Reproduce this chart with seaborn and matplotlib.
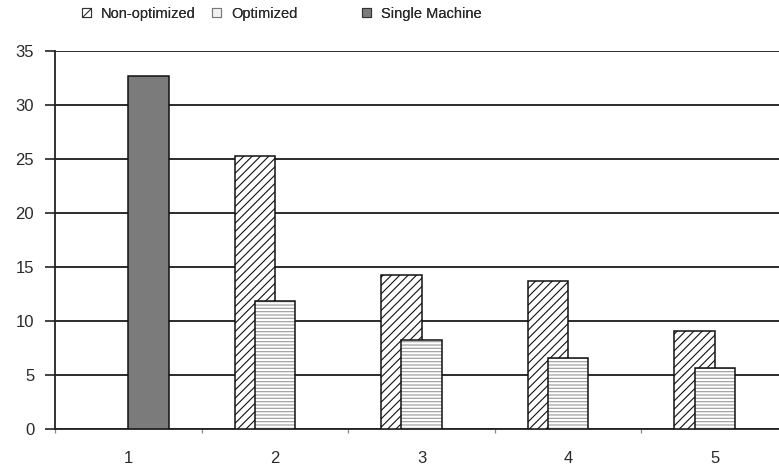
import numpy as np
import pandas as pd
import matplotlib
matplotlib.use("Agg")
import matplotlib.pyplot as plt
import seaborn as sns
from matplotlib.patches import Patch

# ---- data ----
categories = [1, 2, 3, 4, 5]
nonopt_cats = [2, 3, 4, 5]
nonopt_vals = [25.2, 14.2, 13.7, 9.1]
opt_cats = [2, 3, 4, 5]
opt_vals = [11.8, 8.2, 6.6, 5.6]
single_cats = [1]
single_vals = [32.6]
tick_labels = ["1", "2", "3", "4", "5"]
y_ticks = [0, 5, 10, 15, 20, 25, 30, 35]

sns.set_theme(style="white")
plt.rcParams['font.family'] = ['Liberation Sans', 'DejaVu Sans']
plt.rcParams['hatch.linewidth'] = 0.8

TEXT = "#2a2a2a"
W = 0.275      # bar width (category units)
OFF = 0.137    # overlap offset

fig = plt.figure(figsize=(7.79, 4.74), dpi=100)
ax = fig.add_axes([55 / 779, 45 / 474, 733 / 779, 378.5 / 474])

# gridlines behind bars
ax.set_axisbelow(True)
ax.yaxis.grid(True, color="#1a1a1a", linewidth=1.3)
ax.xaxis.grid(False)

df_non = pd.DataFrame({"x": np.array(nonopt_cats) - OFF, "y": nonopt_vals})
df_opt = pd.DataFrame({"x": np.array(opt_cats) + 0.0, "y": opt_vals})
df_sgl = pd.DataFrame({"x": np.array(single_cats) + OFF, "y": single_vals})

# Non-optimized: diagonal hatch
sns.barplot(data=df_non, x="x", y="y", native_scale=True, width=W,
            color="white", edgecolor="#111111", linewidth=1.1,
            hatch="////", ax=ax, zorder=3)
# Optimized: light horizontal hatch + black outline
sns.barplot(data=df_opt, x="x", y="y", native_scale=True, width=W,
            color="white", edgecolor="#9a9a9a", linewidth=0,
            hatch="-----", ax=ax, zorder=4)
sns.barplot(data=df_opt, x="x", y="y", native_scale=True, width=W,
            fill=False, edgecolor="#111111", linewidth=1.1, ax=ax, zorder=5)
# Single machine: solid gray
sns.barplot(data=df_sgl, x="x", y="y", native_scale=True, width=W,
            color="#7b7b7b", saturation=1, edgecolor="#111111", linewidth=1.1,
            ax=ax, zorder=3)

ax.set_xlim(0.5, 5.5)
ax.set_ylim(0, 35)
ax.set_yticks(y_ticks)
ax.set_yticklabels([str(v) for v in y_ticks])
ax.set_xticks(categories)
ax.set_xticklabels(tick_labels)
ax.set_xticks([0.5, 1.5, 2.5, 3.5, 4.5], minor=True)
ax.set_xlabel("")
ax.set_ylabel("")

for s in ["top", "right"]:
    ax.spines[s].set_visible(False)
for s in ["left", "bottom"]:
    ax.spines[s].set_color("#222222")
    ax.spines[s].set_linewidth(1.3)

ax.tick_params(axis="y", which="major", direction="out", length=7, width=1.2,
               color="#222222", pad=8, labelsize=12, labelcolor=TEXT, left=True)
ax.tick_params(axis="x", which="major", length=0, pad=16, labelsize=12,
               labelcolor=TEXT)
ax.tick_params(axis="x", which="minor", direction="out", length=3, width=0.9,
               color="#888888", bottom=True)

# legends (three separate entries along the top)
h_non = Patch(facecolor="white", edgecolor="#333333", hatch="////", linewidth=0.8)
h_opt = Patch(facecolor="#f0f0f0", edgecolor="#777777", linewidth=0.8)
h_sgl = Patch(facecolor="#7b7b7b", edgecolor="#333333", linewidth=0.8)
for h, lab, xpos in [(h_non, "Non-optimized", 82), (h_opt, "Optimized", 212),
                     (h_sgl, "Single Machine", 362)]:
    lg = fig.legend(handles=[h], labels=[lab], loc="center left",
                    bbox_to_anchor=(xpos / 779, 1 - 14 / 474), frameon=False,
                    fontsize=10.5, handlelength=0.6, handleheight=0.6,
                    handletextpad=0.7, borderpad=0, borderaxespad=0)
    for t in lg.get_texts():
        t.set_color(TEXT)
    fig.add_artist(lg)

fig.savefig("out.png", dpi=100)
